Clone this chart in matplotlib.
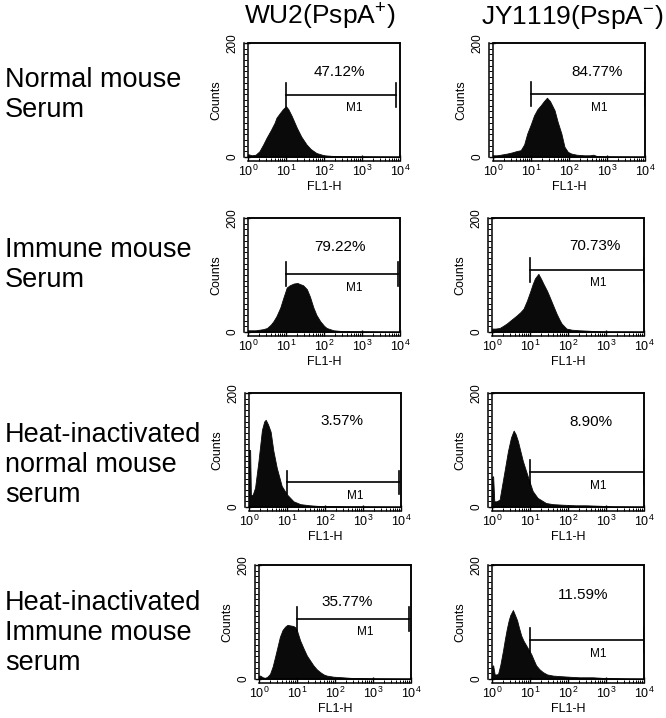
import numpy as np
import matplotlib.pyplot as plt
from matplotlib.patches import Rectangle
from matplotlib.ticker import MultipleLocator, LogLocator, NullFormatter

plt.rcParams['font.family'] = ['Liberation Sans', 'DejaVu Sans']
plt.rcParams['mathtext.fontset'] = 'custom'
plt.rcParams['mathtext.rm'] = 'Liberation Sans'
plt.rcParams['mathtext.it'] = 'Liberation Sans:italic'
plt.rcParams['mathtext.bf'] = 'Liberation Sans:bold'

col_titles = ["WU2(PspA$^{+}$)", "JY1119(PspA$^{-}$)"]
row_labels = ["Normal mouse\nSerum",
              "Immune mouse\nSerum",
              "Heat-inactivated\nnormal mouse\nserum",
              "Heat-inactivated\nImmune mouse\nserum"]

percents = [["47.12%", "84.77%"],
            ["79.22%", "70.73%"],
            ["3.57%", "8.90%"],
            ["35.77%", "11.59%"]]

# M1 gate: height (counts) and right end (FL1-H); left end is 10
gate_y = [[109, 110], [101, 109], [43, 61], [106, 68]]
gate_hi = [[7800, 10000], [9000, 10000], [9000, 10000], [8700, 10000]]

# histogram outlines: log10(FL1-H) and counts
wu2_normal_dec = [0.0, 0.05, 0.1, 0.2, 0.3, 0.4, 0.49, 0.6, 0.7, 0.75, 0.85, 0.92, 1.0, 1.06, 1.15,
                  1.28, 1.4, 1.54, 1.65, 1.8, 1.9, 2.0, 2.2, 2.5, 3.0, 3.5, 4.0]
wu2_normal_cnt = [5, 4, 3, 4, 10, 22, 34, 47, 60, 69, 78, 84, 89, 84, 72,
                  52, 36, 22, 14, 7, 5, 3, 2, 1.5, 1, 0.5, 0]

jy_normal_dec = [0.0, 0.1, 0.2, 0.37, 0.5, 0.6, 0.73, 0.82, 0.9, 1.0, 1.08, 1.17, 1.26, 1.34, 1.42,
                 1.5, 1.62, 1.7, 1.8, 1.88, 1.97, 2.06, 2.2, 2.4, 2.55, 2.64, 2.72, 3.0, 3.5, 4.0]
jy_normal_cnt = [3, 3, 4, 6, 8, 10, 12, 22, 41, 58, 73, 84, 91, 98, 104,
                 98, 82, 62, 41, 18, 9, 6, 4, 3, 3, 4, 2, 1, 0.5, 0]

wu2_immune_dec = [0.0, 0.1, 0.2, 0.3, 0.4, 0.5, 0.6, 0.67, 0.75, 0.85, 0.93, 1.02, 1.1, 1.2, 1.3,
                  1.37, 1.45, 1.55, 1.63, 1.72, 1.8, 1.9, 2.0, 2.07, 2.25, 2.5, 3.0, 3.5, 4.0]
wu2_immune_cnt = [3, 3, 3, 4, 5, 7, 13, 19, 28, 43, 60, 78, 82, 85, 86,
                  84, 82, 75, 62, 43, 30, 19, 11, 7, 3, 1.5, 1, 0.5, 0]

jy_immune_dec = [0.0, 0.09, 0.2, 0.3, 0.39, 0.5, 0.65, 0.75, 0.83, 0.92, 1.0, 1.07, 1.13, 1.22, 1.3,
                 1.35, 1.45, 1.52, 1.6, 1.7, 1.78, 1.83, 1.9, 1.96, 2.1, 2.3, 2.6, 2.9, 3.5, 4.0]
jy_immune_cnt = [6, 6, 7, 11, 15, 21, 29, 35, 41, 55, 70, 84, 94, 102, 92,
                 85, 72, 61, 48, 32, 21, 15, 10, 6, 4, 3, 2, 1, 0.5, 0]

wu2_hi_normal_dec = [0.0, 0.03, 0.05, 0.1, 0.16, 0.25, 0.34, 0.4, 0.44, 0.5, 0.57, 0.64, 0.73, 0.86,
                     1.0, 1.17, 1.35, 1.6, 1.8, 2.2, 2.6, 3.0, 3.5, 4.0]
wu2_hi_normal_cnt = [100, 100, 20, 22, 34, 81, 135, 150, 153, 145, 132, 99, 69, 37,
                     22, 10, 5, 3, 2, 1.5, 1, 1, 0.5, 0]

jy_hi_normal_dec = [0.0, 0.03, 0.06, 0.12, 0.2, 0.33, 0.42, 0.5, 0.57, 0.62, 0.68, 0.81, 0.94, 1.07,
                    1.2, 1.42, 1.6, 1.86, 2.2, 2.47, 2.9, 3.2, 3.6, 4.0]
jy_hi_normal_cnt = [52, 54, 10, 10, 13, 63, 98, 122, 134, 128, 116, 81, 54, 28,
                    16, 7, 5, 4, 3, 3, 2, 1, 0.5, 0]

wu2_hi_immune_dec = [0.0, 0.03, 0.1, 0.16, 0.22, 0.29, 0.36, 0.42, 0.5, 0.55, 0.62, 0.69, 0.75, 0.82,
                     0.9, 0.95, 1.0, 1.08, 1.17, 1.26, 1.35, 1.43, 1.52, 1.61, 1.7, 1.78, 1.96,
                     2.2, 2.4, 2.7, 3.0, 3.5, 4.0]
wu2_hi_immune_cnt = [6, 6, 3, 2, 4, 9, 22, 38, 60, 74, 86, 92, 95, 94,
                     93, 91, 85, 68, 54, 41, 32, 24, 17, 12, 8, 6, 4,
                     3, 2, 1.5, 1, 0.5, 0]

jy_hi_immune_dec = [0.0, 0.03, 0.07, 0.12, 0.16, 0.22, 0.29, 0.34, 0.39, 0.44, 0.48, 0.55, 0.6, 0.66,
                    0.71, 0.77, 0.83, 0.9, 0.96, 1.03, 1.1, 1.16, 1.25, 1.34, 1.45, 1.6, 1.8,
                    2.03, 2.3, 2.65, 2.9, 3.2, 3.6, 4.0]
jy_hi_immune_cnt = [22, 24, 8, 8, 9, 25, 50, 70, 88, 103, 112, 121, 113, 103,
                    90, 76, 67, 59, 52, 44, 33, 24, 17, 12, 8, 6, 5,
                    4, 3, 3, 2, 1.5, 0.5, 0]

hists = [[(wu2_normal_dec, wu2_normal_cnt), (jy_normal_dec, jy_normal_cnt)],
         [(wu2_immune_dec, wu2_immune_cnt), (jy_immune_dec, jy_immune_cnt)],
         [(wu2_hi_normal_dec, wu2_hi_normal_cnt), (jy_hi_normal_dec, jy_hi_normal_cnt)],
         [(wu2_hi_immune_dec, wu2_hi_immune_cnt), (jy_hi_immune_dec, jy_hi_immune_cnt)]]

W, H = 666, 718
fig = plt.figure(figsize=(W / 100, H / 100), dpi=100)

# panel boxes in pixels
panel_left = [[248, 493], [248, 492], [249, 492], [259, 492]]
panel_top = [43, 218, 393, 565]
pw, ph = 152, 114
pct_pos = [[(2.41, 150), (2.73, 150)],
           [(2.42, 150), (2.70, 151)],
           [(2.45, 151), (2.60, 150)],
           [(2.31, 135), (2.40, 147)]]
label_top = [67, 237, 422, 590]

for r in range(4):
    fig.text(5 / W, 1 - label_top[r] / H, row_labels[r], fontsize=19.5,
             va='top', ha='left', linespacing=1.2)
    for c in range(2):
        x0 = panel_left[r][c]
        ax = fig.add_axes([x0 / W, 1 - (panel_top[r] + ph) / H, pw / W, ph / H])
        dec, cnt = hists[r][c]
        xs = 10 ** np.array(dec)
        ax.fill_between(xs, cnt, 0, color='#0a0a0a', lw=0.6, edgecolor='#0a0a0a')
        ax.set_xscale('log')
        ax.set_xlim(1, 1e4)
        ax.set_ylim(0, 200)

        # M1 gate
        gy = gate_y[r][c]
        hi = gate_hi[r][c]
        ax.plot([10, hi], [gy, gy], color='black', lw=1.2)
        ax.plot([10, 10], [gy - 21, gy + 21], color='black', lw=1.2)
        ax.plot([hi, hi], [gy - 21, gy + 21], color='black', lw=1.2)
        ax.text(10 ** 2.8, gy - 13, 'M1', fontsize=8.5, ha='center', va='top')
        px, py = pct_pos[r][c]
        ax.text(10 ** px, py, percents[r][c], fontsize=11, ha='center', va='center')

        # box frame plus ruler-like axes set a little outside it
        ax.add_patch(Rectangle((0, 0), 1, 1, transform=ax.transAxes, fill=False,
                               lw=1.1, color='black', clip_on=False, zorder=5))
        ax.spines['left'].set_position(('outward', 3))
        ax.spines['bottom'].set_position(('outward', 3))
        ax.spines['left'].set_bounds(0, 200)
        ax.spines['bottom'].set_bounds(1, 1e4)

        ax.set_yticks([0, 200])
        ax.set_yticklabels(['0', '200'], rotation=90, va='center')
        ax.yaxis.set_minor_locator(MultipleLocator(10))
        ax.xaxis.set_major_locator(LogLocator(base=10, numticks=6))
        ax.xaxis.set_minor_locator(LogLocator(base=10, subs=np.arange(2, 10), numticks=20))
        ax.xaxis.set_minor_formatter(NullFormatter())
        ax.tick_params(which='both', direction='in')
        ax.tick_params(which='major', length=4, width=1, labelsize=9, pad=2)
        ax.tick_params(axis='y', which='major', labelsize=8.5, pad=4)
        ax.tick_params(which='minor', length=2.5, width=0.7)
        for sp in ax.spines.values():
            sp.set_linewidth(1.1)
        ax.set_xlabel('FL1-H', fontsize=9, labelpad=1)
        ax.set_ylabel('Counts', fontsize=9)
        ax.yaxis.set_label_coords(-0.17, 0.5)

fig.text(320 / W, 1 - 24 / H, col_titles[0], fontsize=19, ha='center', va='baseline')
fig.text(572 / W, 1 - 24 / H, col_titles[1], fontsize=19, ha='center', va='baseline')

fig.savefig('out.png', dpi=100)
